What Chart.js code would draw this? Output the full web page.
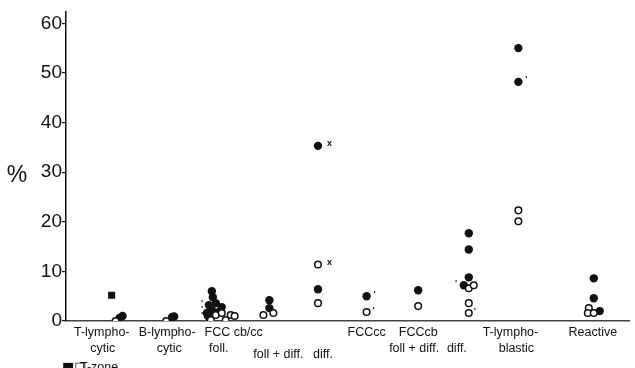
<!DOCTYPE html>
<html>
<head>
<meta charset="utf-8">
<script src="https://cdn.jsdelivr.net/npm/chart.js@4/dist/chart.umd.min.js"></script>
<style>
  body { margin: 0; background: #fff; }
  #wrap { width: 635px; height: 368px; position: relative; }
</style>
</head>
<body>
<div id="wrap"><canvas id="grafico"></canvas></div>
<script>
// groups along the x axis (column units, 1 unit = one column gap)
const groups = ['T-lymphocytic', 'B-lymphocytic', 'FCC cb/cc foll.', 'FCC cb/cc foll + diff.', 'FCC cb/cc diff.',
                'FCCcc', 'FCCcb foll + diff.', 'FCCcb diff.', 'T-lymphoblastic', 'Reactive'];
const groupX = [1.04, 2.06, 2.96, 4.08, 5.06, 6.08, 7.1, 8.12, 9.12, 10.64];
const yTicks = [0, 10, 20, 30, 40, 50, 60];

// [group, value %, shift inside the column]
const filledPoints = [
    [0, 0.6, 0.04], [0, 1.0, 0.1],
    [1, 0.8, 0.08], [1, 0.9, 0.12],
    [2, 6.0, -0.02], [2, 4.8, 0], [2, 3.2, -0.08], [2, 3.6, 0.06], [2, 2.8, 0.18],
    [2, 2.2, -0.02], [2, 1.8, 0.12], [2, 1.6, -0.12], [2, 1.0, -0.1],
    [3, 4.2, 0.02], [3, 2.6, 0.02],
    [4, 35.3, 0.02], [4, 6.4, 0.02],
    [5, 5.0, -0.02],
    [6, 6.2, 0],
    [7, 17.7, 0], [7, 14.4, 0], [7, 8.8, 0], [7, 7.2, -0.1],
    [8, 55.0, 0], [8, 48.2, 0],
    [9, 8.6, 0], [9, 4.6, 0], [9, 2.0, 0.12]
];
const openPoints = [
    [0, 0, -0.04],
    [1, 0, -0.04],
    [2, 0.2, -0.04], [2, 1.2, 0.06], [2, 1.6, 0.18], [2, 0.2, 0.26], [2, 1.2, 0.36], [2, 1.0, 0.44],
    [3, 1.2, -0.1], [3, 1.6, 0.1],
    [4, 11.4, 0.02], [4, 3.6, 0.02],
    [5, 1.8, -0.02],
    [6, 3.0, 0],
    [7, 6.6, 0], [7, 7.2, 0.1], [7, 3.6, 0], [7, 1.6, 0],
    [8, 22.3, 0], [8, 20.1, 0],
    [9, 2.6, -0.1], [9, 1.6, -0.12], [9, 1.6, 0]
];
const squarePoints = [[0, 5.2, -0.12]];
const marks = [
    [4, 35.3, 0.2, 'x'], [4, 11.4, 0.2, 'x'], [5, 5.0, 0.12, '\''], [5, 1.8, 0.1, '\''],
    [8, 48.2, 0.14, '\''], [7, 7.2, -0.28, '\''], [7, 1.6, 0.1, '\''],
    [2, 3.2, -0.24, '\''], [2, 2.0, -0.24, '\''], [2, 0.8, -0.24, '\'']
];

// category texts under the axis: [text, x, row]
const tickLabels = [
    ['T-lympho-', 0.72, 0], ['cytic', 0.74, 1],
    ['B-lympho-', 2.04, 0], ['cytic', 2.08, 1],
    ['FCC cb/cc', 3.38, 0], ['foll.', 3.08, 1],
    ['foll + diff.', 4.28, 2], ['diff.', 5.18, 2],
    ['FCCcc', 6.06, 0],
    ['FCCcb', 7.1, 0], ['foll + diff.', 7.02, 1], ['diff.', 7.88, 1],
    ['T-lympho-', 8.96, 0], ['blastic', 9.08, 1],
    ['Reactive', 10.62, 0]
];
const rowY = [333, 349, 355];

function toXY(list) {
    return list.map(p => ({x: groupX[p[0]] + p[2], y: p[1]}));
}

const texts = {
    id: 'texts',
    afterDraw(chart) {
        const c = chart.ctx;
        const xs = chart.scales.x;
        const ys = chart.scales.y;
        c.save();
        c.fillStyle = '#111';
        c.textBaseline = 'middle';
        c.textAlign = 'center';
        c.font = '12.5px "Liberation Sans", Arial, sans-serif';
        tickLabels.forEach(t => c.fillText(t[0], xs.getPixelForValue(t[1]), rowY[t[2]]));

        c.font = 'bold 9px "Liberation Sans", Arial, sans-serif';
        c.textAlign = 'left';
        marks.forEach(m => c.fillText(m[3], xs.getPixelForValue(groupX[m[0]] + m[2]), ys.getPixelForValue(m[1]) - 2));

        c.font = '23px "Liberation Sans", Arial, sans-serif';
        c.textAlign = 'center';
        c.fillText('%', 17, 176);

        c.font = '13px "DejaVu Sans", sans-serif';
        c.textAlign = 'left';
        c.fillText('■□', 62, 368);
        c.font = '12.5px "Liberation Sans", Arial, sans-serif';
        c.fillText('T-zone', 80, 368);
        c.restore();
    }
};

const config = {
    type: 'scatter',
    data: {
        datasets: [
            {
                label: 'open',
                data: toXY(openPoints),
                pointStyle: 'circle',
                pointRadius: 3.3,
                backgroundColor: '#fff',
                borderColor: '#111',
                borderWidth: 1.5
            },
            {
                label: 'filled',
                data: toXY(filledPoints),
                pointStyle: 'circle',
                pointRadius: 4.2,
                backgroundColor: '#111',
                borderColor: '#111',
                borderWidth: 0
            },
            {
                label: 'T-zone',
                data: toXY(squarePoints),
                pointStyle: 'rect',
                pointRadius: 5,
                backgroundColor: '#111',
                borderColor: '#111',
                borderWidth: 0
            }
        ]
    },
    options: {
        responsive: true,
        maintainAspectRatio: false,
        animation: false,
        layout: {padding: {top: 10, right: 1, left: 0, bottom: 0}},
        plugins: {
            legend: {display: false},
            tooltip: {enabled: false}
        },
        scales: {
            x: {
                type: 'linear',
                min: 0,
                max: 11.36,
                ticks: {display: false},
                grid: {display: false},
                border: {color: '#444', width: 1.5},
                afterFit(scale) { scale.height = 47; }
            },
            y: {
                min: 0,
                max: 62.4,
                afterBuildTicks(scale) { scale.ticks = yTicks.map(v => ({value: v})); },
                ticks: {
                    color: '#111',
                    padding: 0,
                    font: {family: '"Liberation Sans", Arial, sans-serif', size: 19}
                },
                grid: {drawOnChartArea: false, tickLength: 4, color: '#111', lineWidth: 1.2},
                border: {color: '#111', width: 1.5},
                afterFit(scale) { scale.width = 66; }
            }
        }
    },
    plugins: [texts]
};

new Chart(document.getElementById('grafico'), config);
</script>
</body>
</html>
